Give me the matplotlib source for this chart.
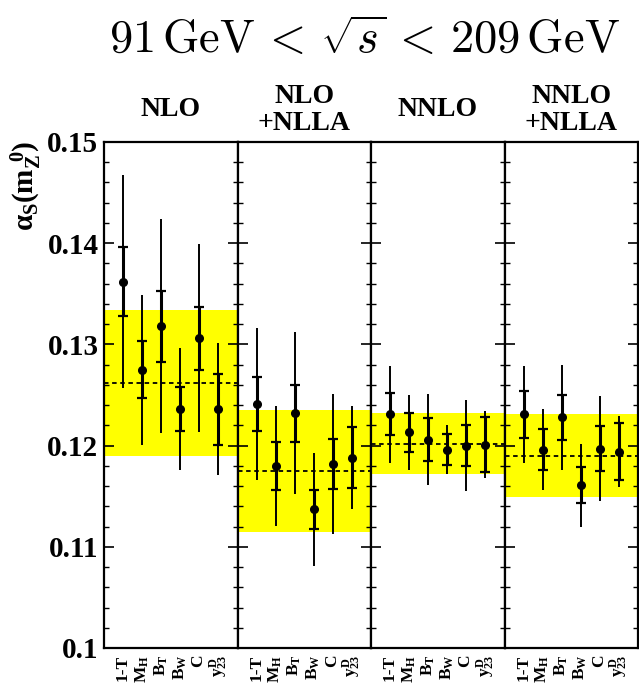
import numpy as np
import matplotlib
matplotlib.use('Agg')
from matplotlib import pyplot as plt
from matplotlib.ticker import FixedLocator

plt.rcParams['font.family'] = ['Liberation Serif', 'DejaVu Serif']
plt.rcParams['font.weight'] = 'bold'
plt.rcParams['mathtext.fontset'] = 'custom'
plt.rcParams['mathtext.rm'] = 'Liberation Serif:bold'
plt.rcParams['mathtext.it'] = 'Liberation Serif:bold'
plt.rcParams['mathtext.bf'] = 'Liberation Serif:bold'

# alpha_s fits per observable, one block per theory prediction
observables = ['1-T', r'$M_H$', r'$B_T$', r'$B_W$', r'$C$', r'$y_{23}^{D}$']
theories = ['NLO', 'NLO\n+NLLA', 'NNLO', 'NNLO\n+NLLA']
yticks = [0.10, 0.11, 0.12, 0.13, 0.14, 0.15]
ytick_labels = ['0.1', '0.11', '0.12', '0.13', '0.14', '0.15']

as_nlo = [0.1362, 0.1275, 0.1318, 0.1236, 0.1306, 0.1236]
stat_nlo = [0.0034, 0.0028, 0.0035, 0.0022, 0.0031, 0.0035]
tot_nlo = [0.0105, 0.0074, 0.0106, 0.0060, 0.0093, 0.0065]

as_nlo_nlla = [0.1241, 0.1180, 0.1232, 0.1137, 0.1182, 0.1188]
stat_nlo_nlla = [0.0027, 0.0024, 0.0028, 0.0019, 0.0025, 0.0030]
tot_nlo_nlla = [0.0075, 0.0059, 0.0080, 0.0056, 0.0069, 0.0051]

as_nnlo = [0.1231, 0.1213, 0.1206, 0.1196, 0.1200, 0.1201]
stat_nnlo = [0.0021, 0.0019, 0.0021, 0.0015, 0.0020, 0.0027]
tot_nnlo = [0.0048, 0.0037, 0.0045, 0.0024, 0.0045, 0.0033]

as_nnlo_nlla = [0.1231, 0.1196, 0.1228, 0.1161, 0.1197, 0.1194]
stat_nnlo_nlla = [0.0023, 0.0020, 0.0022, 0.0018, 0.0022, 0.0028]
tot_nnlo_nlla = [0.0048, 0.0040, 0.0052, 0.0041, 0.0052, 0.0035]

# combined value and its total uncertainty (yellow band)
comb_mean = [0.1262, 0.1175, 0.1202, 0.1190]
comb_err = [0.0072, 0.0060, 0.0030, 0.0041]

values = [as_nlo, as_nlo_nlla, as_nnlo, as_nnlo_nlla]
stats = [stat_nlo, stat_nlo_nlla, stat_nnlo, stat_nnlo_nlla]
tots = [tot_nlo, tot_nlo_nlla, tot_nnlo, tot_nnlo_nlla]

fig = plt.figure(figsize=(6.39, 6.88), dpi=100)
left, right = 104 / 639, 638 / 639
bottom, top = 1 - 648 / 688, 1 - 142 / 688
pw = (right - left) / 4

x = np.arange(1, 7)
for k in range(4):
    ax = fig.add_axes([left + k * pw, bottom, pw, top - bottom])
    ax.set_xlim(0, 7)
    ax.set_ylim(0.1, 0.15)
    ax.axhspan(comb_mean[k] - comb_err[k], comb_mean[k] + comb_err[k],
               color='#ffff00', lw=0, zorder=0)
    ax.axhline(comb_mean[k], color='k', ls=(0, (2.5, 2)), lw=1.3, zorder=1)

    v = np.array(values[k])
    ax.errorbar(x, v, yerr=tots[k], fmt='none', ecolor='k', elinewidth=1.4,
                capsize=0, zorder=2)
    ax.errorbar(x, v, yerr=stats[k], fmt='o', color='k', ms=5.5,
                elinewidth=2.2, capsize=3.5, capthick=1.6, zorder=3)

    ax.yaxis.set_major_locator(FixedLocator(yticks))
    ax.yaxis.set_minor_locator(FixedLocator(np.arange(0.102, 0.15, 0.002)))
    ax.tick_params(axis='y', which='major', direction='in', length=7.5,
                   width=1.2, left=True, right=True)
    ax.tick_params(axis='y', which='minor', direction='in', length=3.8,
                   width=1.0, left=True, right=True)
    ax.set_xticks(x)
    ax.set_xticklabels(observables, rotation=90, fontsize=12.5,
                       fontweight='bold')
    ax.tick_params(axis='x', length=0, pad=5)
    for sp in ax.spines.values():
        sp.set_linewidth(1.6)
    if k == 0:
        ax.set_yticklabels(ytick_labels, fontsize=21, fontweight='bold')
        ax.tick_params(axis='y', pad=4)
    else:
        ax.set_yticklabels([])

    ax.text(3.5, 0.1532, theories[k], ha='center', va='center',
            fontsize=20, fontweight='bold', linespacing=1.1)

fig.text(0.041, 0.73, r'$\alpha_{S}(m_{Z}^{\ 0})$', rotation=90,
         ha='center', va='center', fontsize=21, fontweight='bold')

fig.text(0.57, 0.94, r'$91\,\mathrm{GeV}\, <\, \sqrt{s}\, <\, 209\,\mathrm{GeV}$',
         ha='center', va='center', fontsize=33.5, math_fontfamily='cm')

plt.savefig('out.png', dpi=100)
